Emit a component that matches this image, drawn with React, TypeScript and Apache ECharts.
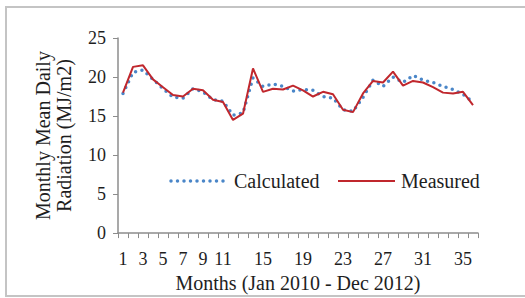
import React, { useEffect, useRef } from "react";
import * as echarts from "echarts";

const months: string[] = Array.from({ length: 36 }, (_, i) => String(i + 1));
const shownLabels: number[] = [1, 3, 5, 7, 9, 11, 15, 19, 23, 27, 31, 35];
const calculated: number[] = [
  17.9, 20.6, 20.9, 19.7, 18.5, 17.4, 17.3, 18.5, 18.1, 17.1, 16.9, 15.1,
  15.4, 19.9, 18.8, 19.1, 18.8, 18.2, 18.4, 18.3, 17.5, 17.3, 15.8, 15.6,
  17.4, 19.6, 18.8, 20.0, 19.3, 20.2, 19.6, 19.3, 18.8, 18.4, 17.8, 16.8,
];
const measured: number[] = [
  18.0, 21.3, 21.5, 19.7, 18.7, 17.7, 17.5, 18.5, 18.3, 17.1, 16.8, 14.5,
  15.3, 21.1, 18.1, 18.5, 18.4, 18.9, 18.3, 17.5, 18.1, 17.8, 15.8, 15.5,
  17.9, 19.5, 19.3, 20.7, 18.9, 19.5, 19.3, 18.7, 18.0, 17.9, 18.1, 16.4,
];
const seriesNames: string[] = ["Calculated", "Measured"];
const yTicks = { min: 0, max: 25, interval: 5 };

const BLUE = "#4a86c8";
const RED = "#c0272d";
const TEXT = "#1e1e1e";

export default function App() {
  const ref = useRef<HTMLDivElement>(null);
  useEffect(() => {
    if (!ref.current) return;
    const chart = echarts.init(ref.current, null, { renderer: "svg" });
    const font = "Liberation Serif";
    const legendY = 181;
    chart.setOption({
      animation: false,
      backgroundColor: "#ffffff",
      textStyle: { fontFamily: font },
      graphic: [
        {
          type: "rect",
          shape: { x: 6, y: 7, width: 530, height: 289 },
          style: { fill: "none", stroke: "#c4c4c4", lineWidth: 2 },
          silent: true,
        },
        {
          type: "line",
          shape: { x1: 171, y1: legendY, x2: 225, y2: legendY },
          style: { stroke: BLUE, lineWidth: 3.5, lineDash: [0, 6.5], lineCap: "round" },
          silent: true,
        },
        {
          type: "text",
          x: 234,
          y: legendY,
          style: {
            text: seriesNames[0],
            fontFamily: font,
            fontSize: 20,
            fill: TEXT,
            verticalAlign: "middle",
            align: "left",
          },
          silent: true,
        },
        {
          type: "line",
          shape: { x1: 338, y1: legendY, x2: 395, y2: legendY },
          style: { stroke: RED, lineWidth: 2 },
          silent: true,
        },
        {
          type: "text",
          x: 401,
          y: legendY,
          style: {
            text: seriesNames[1],
            fontFamily: font,
            fontSize: 20,
            fill: TEXT,
            verticalAlign: "middle",
            align: "left",
          },
          silent: true,
        },
      ],
      grid: { left: 118, right: 47, top: 38, bottom: 60, containLabel: false },
      xAxis: {
        type: "category",
        data: months,
        boundaryGap: true,
        name: "Months (Jan 2010 - Dec 2012)",
        nameLocation: "middle",
        nameGap: 37,
        nameTextStyle: { fontFamily: font, fontSize: 20, color: TEXT },
        axisLine: { lineStyle: { color: "#8c8c8c", width: 1.5 } },
        axisTick: { show: true, interval: 0, length: 5, lineStyle: { color: "#8c8c8c" } },
        axisLabel: {
          interval: (idx: number) => shownLabels.indexOf(idx + 1) >= 0,
          fontFamily: font,
          fontSize: 18,
          color: TEXT,
          margin: 17,
        },
        splitLine: { show: false },
      },
      yAxis: {
        type: "value",
        min: yTicks.min,
        max: yTicks.max,
        interval: yTicks.interval,
        name: "Monthly Mean Daily\nRadiation (MJ/m2)",
        nameLocation: "middle",
        nameGap: 44,
        nameRotate: 90,
        nameTextStyle: { fontFamily: font, fontSize: 20, color: TEXT, lineHeight: 21 },
        axisLine: { show: true, lineStyle: { color: "#8c8c8c", width: 1.5 } },
        axisTick: { show: true, length: 5, lineStyle: { color: "#8c8c8c" } },
        axisLabel: { fontFamily: font, fontSize: 18, color: TEXT, margin: 12 },
        splitLine: { show: false },
      },
      series: [
        {
          name: seriesNames[0],
          type: "line",
          data: calculated,
          showSymbol: false,
          symbol: "none",
          itemStyle: { color: BLUE },
          lineStyle: { color: BLUE, width: 3.5, type: [0, 6.5], cap: "round" },
          z: 2,
        },
        {
          name: seriesNames[1],
          type: "line",
          data: measured,
          showSymbol: false,
          symbol: "none",
          itemStyle: { color: RED },
          lineStyle: { color: RED, width: 2 },
          z: 3,
        },
      ],
    });
    return () => chart.dispose();
  }, []);
  return (
    <div
      ref={ref}
      style={{ position: "fixed", left: 0, top: 0, width: 525, height: 298 }}
    />
  );
}
